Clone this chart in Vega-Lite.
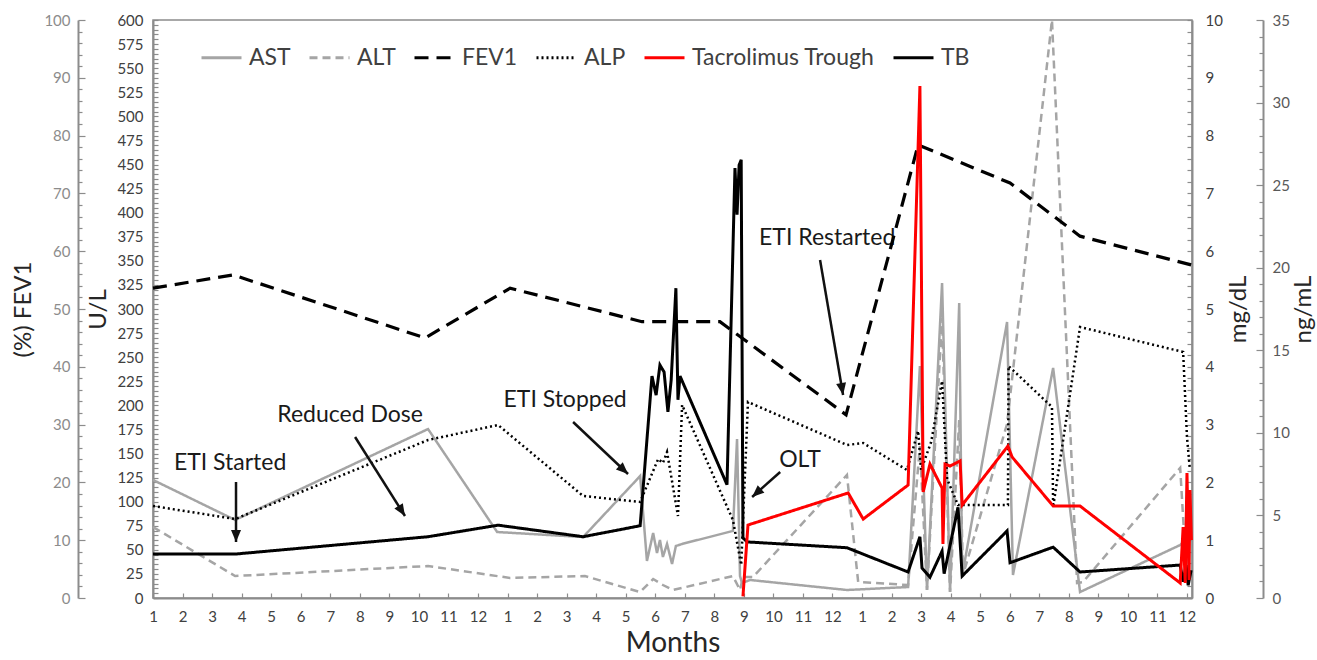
{
  "$schema": "https://vega.github.io/schema/vega-lite/v6.json",
  "width": 1039,
  "height": 578,
  "autosize": {"type": "none"},
  "padding": {"left": 153, "top": 20, "right": 125, "bottom": 62},
  "background": "white",
  "config": {
    "view": {"stroke": "#8c8c8c", "strokeWidth": 1.5},
    "axis": {"grid": false, "domainColor": "#8c8c8c", "domainWidth": 2, "tickColor": "#8c8c8c", "tickWidth": 1.2, "labelFont": "Lato", "titleFont": "Lato", "titleFontWeight": "normal", "labelOverlap": false, "titleColor": "#262626"}
  },
  "datasets": {
    "labs": [
      {"series": "AST", "m": 0, "v": 122.5}, {"series": "AST", "m": 2.78, "v": 81}, {"series": "AST", "m": 9.31, "v": 175.4}, {"series": "AST", "m": 11.65, "v": 68.5}, {"series": "AST", "m": 14.56, "v": 63.3}, {"series": "AST", "m": 16.49, "v": 126.6}, {"series": "AST", "m": 16.72, "v": 38.4}, {"series": "AST", "m": 16.93, "v": 67.5}, {"series": "AST", "m": 17.06, "v": 46.7}, {"series": "AST", "m": 17.16, "v": 60.2}, {"series": "AST", "m": 17.26, "v": 42.6}, {"series": "AST", "m": 17.4, "v": 56.1}, {"series": "AST", "m": 17.57, "v": 35.3}, {"series": "AST", "m": 17.7, "v": 54}, {"series": "AST", "m": 17.91, "v": 56.1}, {"series": "AST", "m": 19.63, "v": 69.6}, {"series": "AST", "m": 19.77, "v": 165.1}, {"series": "AST", "m": 19.87, "v": 22.8}, {"series": "AST", "m": 19.94, "v": 15.6}, {"series": "AST", "m": 20.21, "v": 18.7}, {"series": "AST", "m": 23.49, "v": 8.3}, {"series": "AST", "m": 25.56, "v": 11.4}, {"series": "AST", "m": 25.96, "v": 240.8}, {"series": "AST", "m": 26.2, "v": 8.3}, {"series": "AST", "m": 26.71, "v": 327}, {"series": "AST", "m": 26.98, "v": 6.2}, {"series": "AST", "m": 27.29, "v": 306.2}, {"series": "AST", "m": 27.39, "v": 22.8}, {"series": "AST", "m": 28.91, "v": 286.5}, {"series": "AST", "m": 29.11, "v": 23.9}, {"series": "AST", "m": 30.47, "v": 238.8}, {"series": "AST", "m": 31.38, "v": 6.2}, {"series": "AST", "m": 34.77, "v": 55}, {"series": "AST", "m": 34.94, "v": 60.2}, {"series": "AST", "m": 35.07, "v": 23.9},
      {"series": "ALT", "m": 0, "v": 73.7}, {"series": "ALT", "m": 2.78, "v": 22.8}, {"series": "ALT", "m": 9.31, "v": 33.2}, {"series": "ALT", "m": 12.09, "v": 20.8}, {"series": "ALT", "m": 14.62, "v": 22.8}, {"series": "ALT", "m": 16.49, "v": 6.2}, {"series": "ALT", "m": 16.93, "v": 19.7}, {"series": "ALT", "m": 17.26, "v": 13.5}, {"series": "ALT", "m": 17.6, "v": 8.3}, {"series": "ALT", "m": 19.63, "v": 22.8}, {"series": "ALT", "m": 19.87, "v": 8.3}, {"series": "ALT", "m": 19.97, "v": 21.8}, {"series": "ALT", "m": 20.31, "v": 21.8}, {"series": "ALT", "m": 23.49, "v": 127.7}, {"series": "ALT", "m": 23.87, "v": 16.6}, {"series": "ALT", "m": 25.56, "v": 13.5}, {"series": "ALT", "m": 25.96, "v": 157.8}, {"series": "ALT", "m": 26.2, "v": 8.3}, {"series": "ALT", "m": 26.71, "v": 290.7}, {"series": "ALT", "m": 26.98, "v": 6.2}, {"series": "ALT", "m": 27.29, "v": 184.8}, {"series": "ALT", "m": 27.42, "v": 23.9}, {"series": "ALT", "m": 28.91, "v": 180.6}, {"series": "ALT", "m": 30.43, "v": 600}, {"series": "ALT", "m": 31.28, "v": 15.6}, {"series": "ALT", "m": 31.48, "v": 16.6}, {"series": "ALT", "m": 34.77, "v": 135}, {"series": "ALT", "m": 35.0, "v": 15.6},
      {"series": "ALP", "m": 0, "v": 95.5}, {"series": "ALP", "m": 2.78, "v": 82}, {"series": "ALP", "m": 9.31, "v": 164}, {"series": "ALP", "m": 11.68, "v": 179.6}, {"series": "ALP", "m": 14.56, "v": 105.9}, {"series": "ALP", "m": 16.49, "v": 99.7}, {"series": "ALP", "m": 17.1, "v": 144.3}, {"series": "ALP", "m": 17.26, "v": 140.1}, {"series": "ALP", "m": 17.4, "v": 151.6}, {"series": "ALP", "m": 17.77, "v": 85.1}, {"series": "ALP", "m": 17.91, "v": 200.4}, {"series": "ALP", "m": 19.63, "v": 81}, {"series": "ALP", "m": 19.91, "v": 34.3}, {"series": "ALP", "m": 20.14, "v": 203.5}, {"series": "ALP", "m": 23.49, "v": 158.8}, {"series": "ALP", "m": 24.04, "v": 160.9}, {"series": "ALP", "m": 25.52, "v": 132.9}, {"series": "ALP", "m": 25.9, "v": 173.4}, {"series": "ALP", "m": 26.0, "v": 132.9}, {"series": "ALP", "m": 26.34, "v": 161.9}, {"series": "ALP", "m": 26.71, "v": 225.3}, {"series": "ALP", "m": 26.88, "v": 123.5}, {"series": "ALP", "m": 27.25, "v": 96.5}, {"series": "ALP", "m": 28.94, "v": 96.5}, {"series": "ALP", "m": 28.96, "v": 240.8}, {"series": "ALP", "m": 30.43, "v": 198.3}, {"series": "ALP", "m": 30.47, "v": 94.5}, {"series": "ALP", "m": 31.38, "v": 281.3}, {"series": "ALP", "m": 34.87, "v": 255.4}, {"series": "ALP", "m": 35.0, "v": 167.1}, {"series": "ALP", "m": 35.1, "v": 132.9}
    ],
    "fev1": [
      {"series": "FEV1", "m": 0, "v": 53.6}, {"series": "FEV1", "m": 2.71, "v": 55.9}, {"series": "FEV1", "m": 9.21, "v": 45.0}, {"series": "FEV1", "m": 12.09, "v": 53.6}, {"series": "FEV1", "m": 16.55, "v": 47.8}, {"series": "FEV1", "m": 19.19, "v": 47.8}, {"series": "FEV1", "m": 23.46, "v": 31.7}, {"series": "FEV1", "m": 25.9, "v": 78.4}, {"series": "FEV1", "m": 29.01, "v": 71.8}, {"series": "FEV1", "m": 31.38, "v": 62.6}, {"series": "FEV1", "m": 35.17, "v": 57.6}
    ],
    "tb": [
      {"series": "TB", "m": 0, "v": 0.76}, {"series": "TB", "m": 2.78, "v": 0.76}, {"series": "TB", "m": 9.31, "v": 1.06}, {"series": "TB", "m": 11.68, "v": 1.26}, {"series": "TB", "m": 14.56, "v": 1.06}, {"series": "TB", "m": 16.49, "v": 1.25}, {"series": "TB", "m": 16.89, "v": 3.84}, {"series": "TB", "m": 17.03, "v": 3.51}, {"series": "TB", "m": 17.16, "v": 4.03}, {"series": "TB", "m": 17.3, "v": 3.91}, {"series": "TB", "m": 17.43, "v": 3.22}, {"series": "TB", "m": 17.54, "v": 3.77}, {"series": "TB", "m": 17.7, "v": 5.36}, {"series": "TB", "m": 17.77, "v": 3.43}, {"series": "TB", "m": 17.84, "v": 3.84}, {"series": "TB", "m": 19.43, "v": 1.96}, {"series": "TB", "m": 19.7, "v": 7.44}, {"series": "TB", "m": 19.77, "v": 6.63}, {"series": "TB", "m": 19.84, "v": 7.49}, {"series": "TB", "m": 19.91, "v": 7.58}, {"series": "TB", "m": 19.97, "v": 1.04}, {"series": "TB", "m": 20.11, "v": 0.97}, {"series": "TB", "m": 23.49, "v": 0.87}, {"series": "TB", "m": 25.56, "v": 0.45}, {"series": "TB", "m": 25.96, "v": 1.06}, {"series": "TB", "m": 26.03, "v": 0.52}, {"series": "TB", "m": 26.3, "v": 0.36}, {"series": "TB", "m": 26.71, "v": 0.81}, {"series": "TB", "m": 26.78, "v": 0.42}, {"series": "TB", "m": 27.25, "v": 1.57}, {"series": "TB", "m": 27.39, "v": 0.38}, {"series": "TB", "m": 28.91, "v": 1.16}, {"series": "TB", "m": 29.01, "v": 0.61}, {"series": "TB", "m": 30.47, "v": 0.88}, {"series": "TB", "m": 31.38, "v": 0.45}, {"series": "TB", "m": 34.77, "v": 0.57}, {"series": "TB", "m": 34.87, "v": 0.28}, {"series": "TB", "m": 34.97, "v": 0.57}, {"series": "TB", "m": 35.04, "v": 0.22}, {"series": "TB", "m": 35.14, "v": 0.48}
    ],
    "tac": [
      {"series": "Tacrolimus Trough", "m": 19.97, "v": 0.1}, {"series": "Tacrolimus Trough", "m": 20.14, "v": 4.42}, {"series": "Tacrolimus Trough", "m": 23.53, "v": 6.36}, {"series": "Tacrolimus Trough", "m": 24.04, "v": 4.78}, {"series": "Tacrolimus Trough", "m": 25.56, "v": 6.84}, {"series": "Tacrolimus Trough", "m": 25.96, "v": 31.0}, {"series": "Tacrolimus Trough", "m": 26.07, "v": 6.42}, {"series": "Tacrolimus Trough", "m": 26.3, "v": 8.11}, {"series": "Tacrolimus Trough", "m": 26.71, "v": 6.66}, {"series": "Tacrolimus Trough", "m": 26.74, "v": 3.27}, {"series": "Tacrolimus Trough", "m": 26.81, "v": 8.11}, {"series": "Tacrolimus Trough", "m": 26.98, "v": 7.99}, {"series": "Tacrolimus Trough", "m": 27.32, "v": 8.3}, {"series": "Tacrolimus Trough", "m": 27.39, "v": 5.63}, {"series": "Tacrolimus Trough", "m": 28.94, "v": 9.2}, {"series": "Tacrolimus Trough", "m": 29.08, "v": 8.54}, {"series": "Tacrolimus Trough", "m": 30.47, "v": 5.57}, {"series": "Tacrolimus Trough", "m": 31.38, "v": 5.57}, {"series": "Tacrolimus Trough", "m": 34.77, "v": 0.91}, {"series": "Tacrolimus Trough", "m": 34.87, "v": 4.3}, {"series": "Tacrolimus Trough", "m": 34.94, "v": 0.91}, {"series": "Tacrolimus Trough", "m": 35.0, "v": 7.57}, {"series": "Tacrolimus Trough", "m": 35.07, "v": 1.09}, {"series": "Tacrolimus Trough", "m": 35.1, "v": 6.54}, {"series": "Tacrolimus Trough", "m": 35.15, "v": 3.51}
    ],
    "notes": [
      {"label": "ETI Started", "m": 2.61, "v": 140}, {"label": "Reduced Dose", "m": 6.67, "v": 190}, {"label": "ETI Stopped", "m": 13.95, "v": 205.5}, {"label": "OLT", "m": 21.9, "v": 143.3}, {"label": "ETI Restarted", "m": 22.82, "v": 373.7}
    ],
    "arrows": [
      {"m": 2.81, "v": 120.4, "m2": 2.81, "v2": 58.1, "angle": 180}, {"m": 6.84, "v": 167.1, "m2": 8.53, "v2": 85.1, "angle": 147.7}, {"m": 14.22, "v": 182.7, "m2": 16.08, "v2": 128.7, "angle": 133.4}, {"m": 21.23, "v": 130.8, "m2": 20.28, "v2": 104.9, "angle": 228.2}, {"m": 22.58, "v": 350.9, "m2": 23.36, "v2": 210.7, "angle": 170.3}
    ]
  },
  "encoding": {
    "x": {"field": "m", "type": "quantitative", "title": "Months", "scale": {"domain": [0, 35.17], "nice": false, "zero": false},
      "axis": {"values": [0,1,2,3,4,5,6,7,8,9,10,11,12,13,14,15,16,17,18,19,20,21,22,23,24,25,26,27,28,29,30,31,32,33,34,35], "labelExpr": "'' + (datum.value % 12 + 1)", "title": "Months", "titleFontSize": 28, "titlePadding": 5, "labelFontSize": 15, "labelColor": "#404040", "tickSize": -5, "labelPadding": 16, "labelFlush": false}}
  },
  "layer": [
    {
      "encoding": {
        "y": {"field": "v", "type": "quantitative", "title": "U/L", "scale": {"domain": [0, 600], "nice": false},
          "axis": {"orient": "left", "values": [0,5,10,15,20,25,30,35,40,45,50,55,60,65,70,75,80,85,90,95,100,105,110,115,120,125,130,135,140,145,150,155,160,165,170,175,180,185,190,195,200,205,210,215,220,225,230,235,240,245,250,255,260,265,270,275,280,285,290,295,300,305,310,315,320,325,330,335,340,345,350,355,360,365,370,375,380,385,390,395,400,405,410,415,420,425,430,435,440,445,450,455,460,465,470,475,480,485,490,495,500,505,510,515,520,525,530,535,540,545,550,555,560,565,570,575,580,585,590,595,600], "labelExpr": "datum.value % 25 === 0 ? '' + datum.value : ''", "title": "U/L", "titleFontSize": 24, "titlePadding": 6, "labelFontSize": 15, "labelColor": "#404040", "tickSize": -5, "labelPadding": 15}}
      },
      "layer": [
        {
          "data": {"name": "labs"},
          "mark": {"type": "line", "strokeWidth": 2.5},
          "encoding": {
            "color": {"field": "series", "type": "nominal", "scale": {"domain": ["AST", "ALT", "FEV1", "ALP", "Tacrolimus Trough", "TB"], "range": ["#a5a5a5", "#a5a5a5", "#000000", "#000000", "#ff0000", "#000000"]},
              "legend": {"orient": "none", "legendX": 47, "legendY": 16, "direction": "horizontal", "title": null, "symbolType": "stroke", "symbolSize": 1600, "symbolStrokeWidth": 3, "labelFontSize": 23, "labelFont": "Lato", "labelColor": "#404040", "columnPadding": 12, "labelOffset": 6, "labelLimit": 400}},
            "strokeDash": {"field": "series", "type": "nominal", "scale": {"domain": ["AST", "ALT", "FEV1", "ALP", "Tacrolimus Trough", "TB"], "range": [[1, 0], [8, 5], [14, 8], [2, 3], [1, 0], [1, 0]]},
              "legend": {"orient": "none", "legendX": 47, "legendY": 16, "direction": "horizontal", "title": null, "symbolType": "stroke", "symbolSize": 1600, "symbolStrokeWidth": 3, "labelFontSize": 23, "labelFont": "Lato", "labelColor": "#404040", "columnPadding": 12, "labelOffset": 6, "labelLimit": 400}}
          }
        },
        {
          "data": {"name": "arrows"},
          "mark": {"type": "rule", "strokeWidth": 2.5, "color": "#111111"},
          "encoding": {
            "x2": {"field": "m2"},
            "y2": {"field": "v2"}
          }
        },
        {
          "data": {"name": "arrows"},
          "mark": {"type": "point", "shape": "M0,0L-1,2.4L1,2.4Z", "filled": true, "color": "#111111", "size": 100, "opacity": 1},
          "encoding": {
            "x": {"field": "m2", "type": "quantitative", "title": "Months", "scale": {"domain": [0, 35.17], "nice": false, "zero": false},
              "axis": {"values": [0,1,2,3,4,5,6,7,8,9,10,11,12,13,14,15,16,17,18,19,20,21,22,23,24,25,26,27,28,29,30,31,32,33,34,35], "labelExpr": "'' + (datum.value % 12 + 1)", "title": "Months", "titleFontSize": 28, "titlePadding": 5, "labelFontSize": 15, "labelColor": "#404040", "tickSize": -5, "labelPadding": 16, "labelFlush": false}},
            "y": {"field": "v2", "type": "quantitative", "title": "U/L", "scale": {"domain": [0, 600], "nice": false},
              "axis": {"orient": "left", "values": [0,5,10,15,20,25,30,35,40,45,50,55,60,65,70,75,80,85,90,95,100,105,110,115,120,125,130,135,140,145,150,155,160,165,170,175,180,185,190,195,200,205,210,215,220,225,230,235,240,245,250,255,260,265,270,275,280,285,290,295,300,305,310,315,320,325,330,335,340,345,350,355,360,365,370,375,380,385,390,395,400,405,410,415,420,425,430,435,440,445,450,455,460,465,470,475,480,485,490,495,500,505,510,515,520,525,530,535,540,545,550,555,560,565,570,575,580,585,590,595,600], "labelExpr": "datum.value % 25 === 0 ? '' + datum.value : ''", "title": "U/L", "titleFontSize": 24, "titlePadding": 6, "labelFontSize": 15, "labelColor": "#404040", "tickSize": -5, "labelPadding": 15}},
            "angle": {"field": "angle", "type": "quantitative", "scale": null}
          }
        },
        {
          "data": {"name": "notes"},
          "mark": {"type": "text", "fontSize": 23, "font": "Lato", "color": "#1a1a1a", "align": "center", "baseline": "middle"},
          "encoding": {
            "text": {"field": "label"}
          }
        }
      ]
    },
    {
      "data": {"name": "fev1"},
      "mark": {"type": "line", "strokeWidth": 3.2},
      "encoding": {
        "y": {"field": "v", "type": "quantitative", "title": "(%) FEV1", "scale": {"domain": [0, 100], "nice": false},
          "axis": {"orient": "left", "offset": 75, "values": [0,2,4,6,8,10,12,14,16,18,20,22,24,26,28,30,32,34,36,38,40,42,44,46,48,50,52,54,56,58,60,62,64,66,68,70,72,74,76,78,80,82,84,86,88,90,92,94,96,98,100], "labelExpr": "datum.value % 10 === 0 ? '' + datum.value : ''", "title": "(%) FEV1", "titleFontSize": 24, "titlePadding": 8, "labelFontSize": 15, "labelColor": "#8c8c8c", "tickSize": {"condition": {"test": "datum.value % 10 === 0", "value": -7}, "value": -4}, "labelPadding": 15}},
        "color": {"field": "series", "type": "nominal", "scale": {"domain": ["AST", "ALT", "FEV1", "ALP", "Tacrolimus Trough", "TB"], "range": ["#a5a5a5", "#a5a5a5", "#000000", "#000000", "#ff0000", "#000000"]},
          "legend": {"orient": "none", "legendX": 47, "legendY": 16, "direction": "horizontal", "title": null, "symbolType": "stroke", "symbolSize": 1600, "symbolStrokeWidth": 3, "labelFontSize": 23, "labelFont": "Lato", "labelColor": "#404040", "columnPadding": 12, "labelOffset": 6, "labelLimit": 400}},
        "strokeDash": {"field": "series", "type": "nominal", "scale": {"domain": ["AST", "ALT", "FEV1", "ALP", "Tacrolimus Trough", "TB"], "range": [[1, 0], [8, 5], [14, 8], [2, 3], [1, 0], [1, 0]]},
          "legend": {"orient": "none", "legendX": 47, "legendY": 16, "direction": "horizontal", "title": null, "symbolType": "stroke", "symbolSize": 1600, "symbolStrokeWidth": 3, "labelFontSize": 23, "labelFont": "Lato", "labelColor": "#404040", "columnPadding": 12, "labelOffset": 6, "labelLimit": 400}}
      }
    },
    {
      "data": {"name": "tb"},
      "mark": {"type": "line", "strokeWidth": 3},
      "encoding": {
        "y": {"field": "v", "type": "quantitative", "title": "mg/dL", "scale": {"domain": [0, 10], "nice": false},
          "axis": {"orient": "right", "values": [0,0.2,0.4,0.6,0.8,1,1.2,1.4,1.6,1.8,2,2.2,2.4,2.6,2.8,3,3.2,3.4,3.6,3.8,4,4.2,4.4,4.6,4.8,5,5.2,5.4,5.6,5.8,6,6.2,6.4,6.6,6.8,7,7.2,7.4,7.6,7.8,8,8.2,8.4,8.6,8.8,9,9.2,9.4,9.6,9.8,10], "labelExpr": "datum.value % 1 === 0 ? '' + datum.value : ''", "title": "mg/dL", "titleFontSize": 24, "titleAngle": 270, "titleBaseline": "top", "titlePadding": 4, "labelFontSize": 15, "labelColor": "#404040", "tickSize": -5, "labelPadding": 18}},
        "color": {"field": "series", "type": "nominal", "scale": {"domain": ["AST", "ALT", "FEV1", "ALP", "Tacrolimus Trough", "TB"], "range": ["#a5a5a5", "#a5a5a5", "#000000", "#000000", "#ff0000", "#000000"]},
          "legend": {"orient": "none", "legendX": 47, "legendY": 16, "direction": "horizontal", "title": null, "symbolType": "stroke", "symbolSize": 1600, "symbolStrokeWidth": 3, "labelFontSize": 23, "labelFont": "Lato", "labelColor": "#404040", "columnPadding": 12, "labelOffset": 6, "labelLimit": 400}},
        "strokeDash": {"field": "series", "type": "nominal", "scale": {"domain": ["AST", "ALT", "FEV1", "ALP", "Tacrolimus Trough", "TB"], "range": [[1, 0], [8, 5], [14, 8], [2, 3], [1, 0], [1, 0]]},
          "legend": {"orient": "none", "legendX": 47, "legendY": 16, "direction": "horizontal", "title": null, "symbolType": "stroke", "symbolSize": 1600, "symbolStrokeWidth": 3, "labelFontSize": 23, "labelFont": "Lato", "labelColor": "#404040", "columnPadding": 12, "labelOffset": 6, "labelLimit": 400}}
      }
    },
    {
      "data": {"name": "tac"},
      "mark": {"type": "line", "strokeWidth": 3},
      "encoding": {
        "y": {"field": "v", "type": "quantitative", "title": "ng/mL", "scale": {"domain": [0, 35], "nice": false},
          "axis": {"orient": "right", "offset": 71, "values": [0,1,2,3,4,5,6,7,8,9,10,11,12,13,14,15,16,17,18,19,20,21,22,23,24,25,26,27,28,29,30,31,32,33,34,35], "labelExpr": "datum.value % 5 === 0 ? '' + datum.value : ''", "title": "ng/mL", "titleFontSize": 24, "titleAngle": 270, "titleBaseline": "top", "titlePadding": 2, "labelFontSize": 15, "labelColor": "#595959", "tickSize": {"condition": {"test": "datum.value % 5 === 0", "value": -7}, "value": -4}, "labelPadding": 16}},
        "color": {"field": "series", "type": "nominal", "scale": {"domain": ["AST", "ALT", "FEV1", "ALP", "Tacrolimus Trough", "TB"], "range": ["#a5a5a5", "#a5a5a5", "#000000", "#000000", "#ff0000", "#000000"]},
          "legend": {"orient": "none", "legendX": 47, "legendY": 16, "direction": "horizontal", "title": null, "symbolType": "stroke", "symbolSize": 1600, "symbolStrokeWidth": 3, "labelFontSize": 23, "labelFont": "Lato", "labelColor": "#404040", "columnPadding": 12, "labelOffset": 6, "labelLimit": 400}},
        "strokeDash": {"field": "series", "type": "nominal", "scale": {"domain": ["AST", "ALT", "FEV1", "ALP", "Tacrolimus Trough", "TB"], "range": [[1, 0], [8, 5], [14, 8], [2, 3], [1, 0], [1, 0]]},
          "legend": {"orient": "none", "legendX": 47, "legendY": 16, "direction": "horizontal", "title": null, "symbolType": "stroke", "symbolSize": 1600, "symbolStrokeWidth": 3, "labelFontSize": 23, "labelFont": "Lato", "labelColor": "#404040", "columnPadding": 12, "labelOffset": 6, "labelLimit": 400}}
      }
    }
  ],
  "resolve": {"scale": {"y": "independent"}}
}
